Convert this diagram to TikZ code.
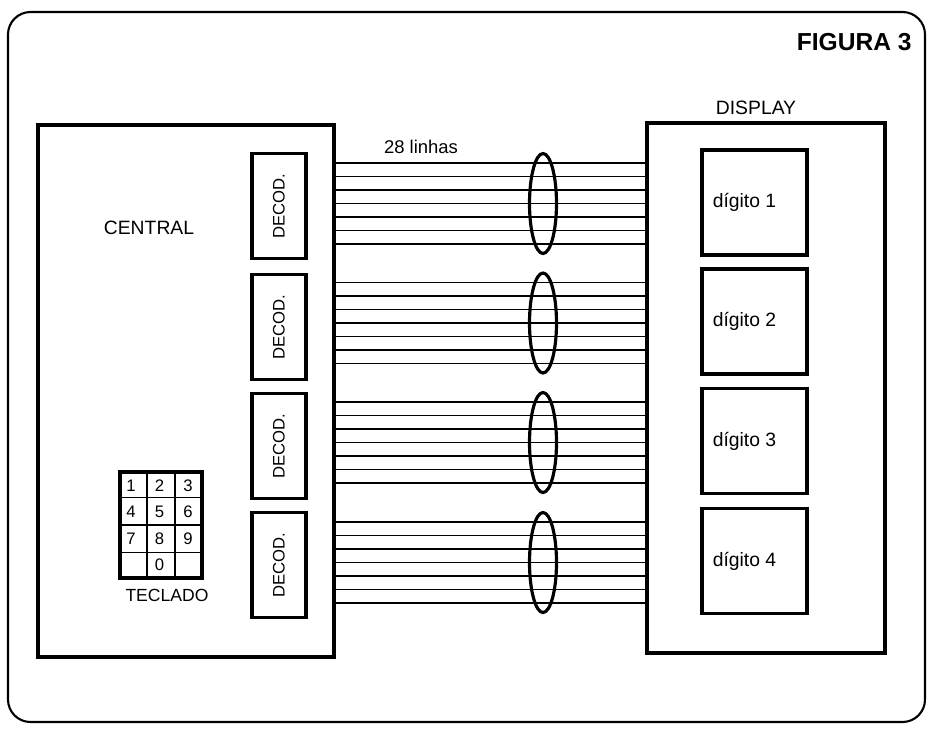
\documentclass[tikz,border=0pt]{standalone}
\usepackage{fontspec}
\setmainfont{Liberation Sans}
\usetikzlibrary{shapes.geometric,calc}

\begin{document}
\begin{tikzpicture}[x=0.02cm,y=-0.02cm,
  box/.style={draw,line width=1.8pt,inner sep=0pt},
  decodbox/.style={box,rotate=90,minimum width=2.1cm,minimum height=1.08cm,font=\fontsize{9.5}{11}\selectfont},
  digitbox/.style={box,minimum width=2.1cm,minimum height=2.1cm},
  wire/.style={line width=0.7pt},
  bundle/.style={draw,ellipse,line width=1.8pt,minimum width=0.54cm,minimum height=2cm,inner sep=0pt},
  lbl/.style={font=\fontsize{11}{13}\selectfont,inner sep=0pt},
  key/.style={font=\fontsize{9.5}{11}\selectfont,inner sep=0pt}]

  \useasboundingbox (0,0) rectangle (933,728);
  % outer frame
  \draw[line width=1.2pt,rounded corners=0.45cm] (8,12) rectangle (925,722);
  \node[font=\fontsize{14}{16}\selectfont\bfseries,anchor=east,inner sep=0pt] (fig) at (912,42) {FIGURA 3};

  % central and display
  \node[box,minimum width=5.92cm,minimum height=10.64cm] (central) at (186,391) {};
  \node[box,minimum width=4.76cm,minimum height=10.6cm] (display) at (766,388) {};
  \node[lbl] (centrallbl) at (149,228) {CENTRAL};
  \node[lbl] (displaylbl) at (756,108) {DISPLAY};
  \node[lbl,font=\fontsize{10.5}{12}\selectfont] (linhas) at (421,147) {28 linhas};

  % decoders, 7 lines each, digits
  \foreach \i/\yd/\yw/\yg in {1/206/203.5/202.5, 2/327/323/321.5, 3/446/442.5/441, 4/565/562.5/561} {
    \node[decodbox] (dec\i) at (279,\yd) {DECOD.};
    \node[digitbox] (dig\i) at (754.5,\yg) {};
    \node[lbl,anchor=west] (diglbl\i) at ($(dig\i.west)+(12,0)$) {dígito \i};
    \foreach \k in {-3,...,3} {
      \coordinate (w) at (0,\yw+\k*13.5);
      \draw[wire] (central.east |- w) -- (display.west |- w);
    }
    \node[bundle] (bun\i) at (543,\yw) {};
  }

  % keypad
  \node[box,minimum width=1.64cm,minimum height=2.12cm] (keypad) at (161,525) {};
  \foreach \f in {1,2}
    \draw[line width=0.8pt] ($(keypad.north west)!\f/3!(keypad.north east)$) -- ($(keypad.south west)!\f/3!(keypad.south east)$);
  \foreach \f in {1,2,3}
    \draw[line width=0.8pt] ($(keypad.north west)!\f/4!(keypad.south west)$) -- ($(keypad.north east)!\f/4!(keypad.south east)$);
  \foreach \k/\c/\r in {1/0/0,2/1/0,3/2/0,4/0/1,5/1/1,6/2/1,7/0/2,8/1/2,9/2/2,0/1/3}
    \node[key] (key\k) at (131+28.5*\c,485.25+26.5*\r) {\k};
  \node[lbl,font=\fontsize{10}{12}\selectfont] (teclado) at (167,595) {TECLADO};
\end{tikzpicture}
\end{document}
